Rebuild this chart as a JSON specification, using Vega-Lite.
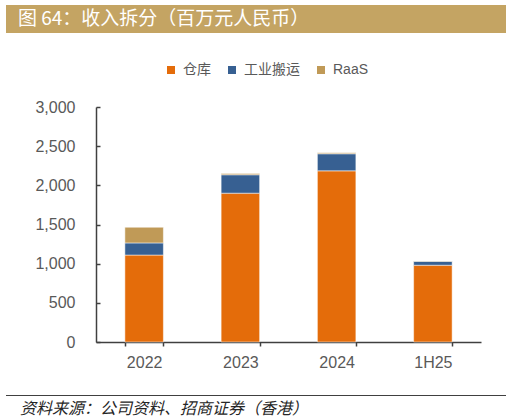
{
  "$schema": "https://vega.github.io/schema/vega-lite/v6.json",
  "padding": {"left": 6, "top": 5, "right": 5, "bottom": 0},
  "spacing": 25,
  "resolve": {"legend": {"color": "independent"}},
  "config": {
    "font": "Liberation Sans, Noto Sans CJK SC, sans-serif",
    "view": {"stroke": null}
  },
  "datasets": {
    "rev": [
      {"year": "2022", "type": "仓库", "k": 1, "value": 1110},
      {"year": "2022", "type": "工业搬运", "k": 2, "value": 155},
      {"year": "2022", "type": "RaaS", "k": 3, "value": 200},
      {"year": "2023", "type": "仓库", "k": 1, "value": 1900},
      {"year": "2023", "type": "工业搬运", "k": 2, "value": 235},
      {"year": "2023", "type": "RaaS", "k": 3, "value": 15},
      {"year": "2024", "type": "仓库", "k": 1, "value": 2185},
      {"year": "2024", "type": "工业搬运", "k": 2, "value": 218},
      {"year": "2024", "type": "RaaS", "k": 3, "value": 12},
      {"year": "1H25", "type": "仓库", "k": 1, "value": 980},
      {"year": "1H25", "type": "工业搬运", "k": 2, "value": 50},
      {"year": "1H25", "type": "RaaS", "k": 3, "value": 5}
    ]
  },
  "vconcat": [
    {
      "width": 410,
      "height": 28,
      "data": {"values": [{"t": "图 64：收入拆分（百万元人民币）"}]},
      "layer": [
        {
          "mark": {"type": "rect", "color": "#C4A463"},
          "encoding": {
            "x": {"value": -90}, "x2": {"value": 410},
            "y": {"value": 0}, "y2": {"value": 28}
          }
        },
        {
          "mark": {"type": "text", "align": "left", "baseline": "middle", "color": "white", "fontSize": 19, "font": "Noto Sans CJK SC, Liberation Sans"},
          "encoding": {
            "text": {"field": "t"},
            "x": {"value": -78},
            "y": {"value": 14}
          }
        }
      ]
    },
    {
      "width": 385,
      "height": 235,
      "data": {"name": "rev"},
      "mark": {"type": "bar", "stroke": "white", "strokeWidth": 0.5},
      "encoding": {
        "x": {
          "field": "year", "type": "nominal", "sort": ["2022", "2023", "2024", "1H25"],
          "scale": {"paddingInner": 0.6, "paddingOuter": 0.3},
          "axis": {
            "title": null, "labelAngle": 0, "labelFontSize": 16, "labelColor": "#595959",
            "domainColor": "#404040", "domainWidth": 1.5, "tickColor": "#404040", "tickWidth": 1.5,
            "tickSize": 4, "tickBand": "extent", "labelPadding": 8
          }
        },
        "y": {
          "field": "value", "type": "quantitative", "stack": "zero",
          "scale": {"domain": [0, 3000]},
          "axis": {
            "title": null, "values": [0, 500, 1000, 1500, 2000, 2500, 3000], "format": ",.0f",
            "grid": false, "labelFontSize": 16, "labelColor": "#595959",
            "domainColor": "#404040", "domainWidth": 1.5, "tickColor": "#404040", "tickWidth": 1.5,
            "tickSize": -4, "labelPadding": 25, "minExtent": 90, "maxExtent": 90
          }
        },
        "color": {
          "field": "type", "type": "nominal",
          "scale": {"domain": ["仓库", "工业搬运", "RaaS"], "range": ["#E46C0A", "#376092", "#C09A57"]},
          "legend": {
            "title": null, "orient": "none", "direction": "horizontal", "legendX": 63, "legendY": -49,
            "padding": 5,
            "symbolType": "square", "symbolSize": 64, "symbolStrokeWidth": 0,
            "labelFontSize": 14, "labelColor": "#595959", "labelOffset": 5, "columnPadding": 14
          }
        },
        "order": {"field": "k", "type": "quantitative", "sort": "ascending"}
      }
    },
    {
      "width": 410,
      "height": 26,
      "data": {"values": [{"t": "资料来源：公司资料、招商证券（香港）"}]},
      "layer": [
        {
          "mark": {"type": "rect", "color": "#404040"},
          "encoding": {"x": {"value": -90}, "x2": {"value": 410}, "y": {"value": -1}, "y2": {"value": 0}}
        },
        {
          "mark": {"type": "text", "align": "left", "baseline": "middle", "color": "#262626", "fontSize": 16, "fontStyle": "italic", "font": "Noto Sans CJK SC"},
          "encoding": {
            "text": {"field": "t"},
            "x": {"value": -76},
            "y": {"value": 13}
          }
        }
      ]
    }
  ]
}
